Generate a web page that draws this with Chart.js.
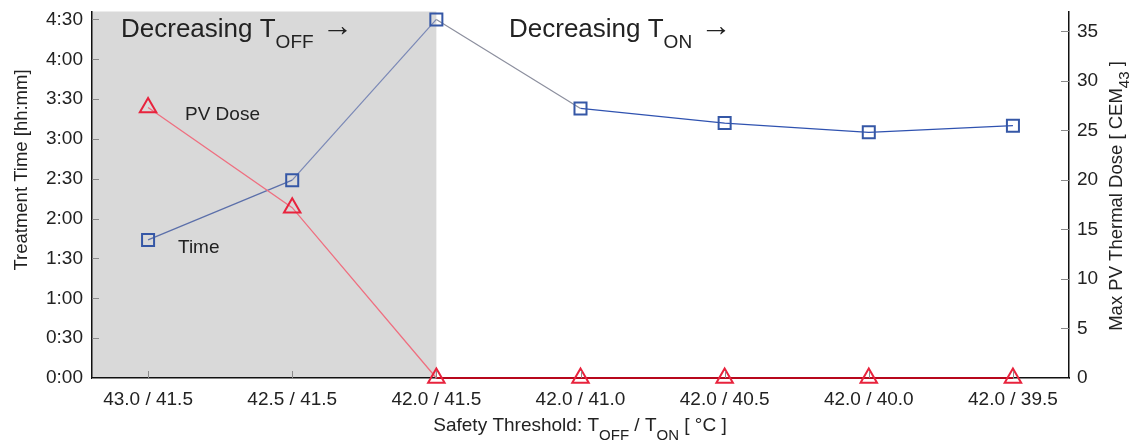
<!DOCTYPE html>
<html>
<head>
<meta charset="utf-8">
<script src="https://cdn.jsdelivr.net/npm/chart.js@4.4.0/dist/chart.umd.min.js"></script>
<style>
  html, body { margin: 0; padding: 0; background: #fff; }
  #wrap { width: 1136px; height: 442px; }
</style>
</head>
<body>
<div id="wrap"><canvas id="chart" width="1136" height="442"></canvas></div>
<script>
// chart data
const categories = ['43.0 / 41.5', '42.5 / 41.5', '42.0 / 41.5', '42.0 / 41.0', '42.0 / 40.5', '42.0 / 40.0', '42.0 / 39.5'];
const treatmentMinutes = [104, 149, 270, 203, 192, 185, 190];
const pvDose = [27.3, 17.2, 0, 0, 0, 0, 0];
const timeTicks = [0, 30, 60, 90, 120, 150, 180, 210, 240, 270];
const doseTicks = [0, 5, 10, 15, 20, 25, 30, 35];

const FONT = "'Liberation Sans', Arial, 'DejaVu Sans', sans-serif";
const TEXT = '#222';

function fmtTime(m) {
    const h = Math.floor(m / 60);
    const mm = m % 60;
    return h + ':' + (mm < 10 ? '0' : '') + mm;
}

// draws a run of text pieces, some of them subscripts
function drawRuns(ctx, runs, x, y) {
    let cx = x;
    runs.forEach(r => {
        ctx.font = r.size + 'px ' + FONT;
        ctx.fillText(r.t, cx, y + (r.dy || 0));
        cx += ctx.measureText(r.t).width;
    });
    return cx - x;
}
function runsWidth(ctx, runs) {
    let w = 0;
    runs.forEach(r => {
        ctx.font = r.size + 'px ' + FONT;
        w += ctx.measureText(r.t).width;
    });
    return w;
}

const shadePlugin = {
    id: 'shade',
    beforeDraw(chart) {
        const {ctx, chartArea} = chart;
        const x2 = chart.scales.x.getPixelForValue(2);
        ctx.save();
        ctx.fillStyle = '#d9d9d9';
        ctx.fillRect(chartArea.left, chartArea.top, x2 - chartArea.left, chartArea.bottom - chartArea.top);
        ctx.restore();
    }
};

const decorPlugin = {
    id: 'decor',
    afterDraw(chart) {
        const {ctx, chartArea, scales} = chart;
        ctx.save();
        // inward tick marks
        ctx.strokeStyle = '#8a8a8a';
        ctx.lineWidth = 1;
        scales.x.ticks.forEach(t => {
            const px = Math.round(scales.x.getPixelForValue(t.value)) + 0.5;
            ctx.beginPath(); ctx.moveTo(px, chartArea.bottom - 7); ctx.lineTo(px, chartArea.bottom); ctx.stroke();
        });
        scales.yTime.ticks.forEach(t => {
            const py = Math.round(scales.yTime.getPixelForValue(t.value)) + 0.5;
            ctx.beginPath(); ctx.moveTo(chartArea.left, py); ctx.lineTo(chartArea.left + 7, py); ctx.stroke();
        });
        scales.yDose.ticks.forEach(t => {
            const py = Math.round(scales.yDose.getPixelForValue(t.value)) + 0.5;
            ctx.beginPath(); ctx.moveTo(chartArea.right - 8, py); ctx.lineTo(chartArea.right, py); ctx.stroke();
        });

        ctx.fillStyle = TEXT;
        ctx.textBaseline = 'alphabetic';
        ctx.textAlign = 'left';

        // region labels
        drawRuns(ctx, [{t: 'Decreasing T', size: 26}, {t: 'OFF', size: 19, dy: 11}, {t: ' \u2192', size: 31, dy: -1}], 121, 37);
        drawRuns(ctx, [{t: 'Decreasing T', size: 26}, {t: 'ON', size: 19, dy: 11}, {t: ' \u2192', size: 31, dy: -1}], 509, 37);

        // series labels
        ctx.font = '19px ' + FONT;
        ctx.fillText('PV Dose', 185, 120);
        ctx.fillText('Time', 178, 253);

        // x title
        const xRuns = [{t: 'Safety Threshold: T', size: 19}, {t: 'OFF', size: 15, dy: 9}, {t: ' / T', size: 19},
                       {t: 'ON', size: 15, dy: 9}, {t: ' [ \u00b0C ]', size: 19}];
        const xw = runsWidth(ctx, xRuns);
        drawRuns(ctx, xRuns, 580 - xw / 2, 431);

        // left title
        ctx.save();
        ctx.translate(27, 170);
        ctx.rotate(-Math.PI / 2);
        ctx.font = '18.5px ' + FONT;
        ctx.textAlign = 'center';
        ctx.fillText('Treatment Time [hh:mm]', 0, 0);
        ctx.restore();

        // right title
        ctx.save();
        ctx.translate(1122, 196);
        ctx.rotate(-Math.PI / 2);
        const rRuns = [{t: 'Max PV Thermal Dose [ CEM', size: 18.5}, {t: '43', size: 15, dy: 7}, {t: ' ]', size: 18.5}];
        const rw = runsWidth(ctx, rRuns);
        drawRuns(ctx, rRuns, -rw / 2, 0);
        ctx.restore();

        ctx.restore();
    }
};

const blueSeg = ['#5b6faa', '#7a88b6', '#8c8f9e', '#2f52b0', '#2f52b0', '#2f52b0'];
const redSeg = ['#ef6f80', '#ef6f80', '#b8081c', '#b8081c', '#b8081c', '#b8081c'];

const noPad = s => { s.paddingTop = 0; s.paddingBottom = 0; s.paddingLeft = 0; s.paddingRight = 0; };

const ctx = document.getElementById('chart').getContext('2d');
new Chart(ctx, {
    type: 'line',
    data: {
        datasets: [
            {
                label: 'PV Dose',
                data: pvDose.map((v, i) => ({x: i, y: v})),
                yAxisID: 'yDose',
                borderColor: '#ef6f80',
                borderWidth: 1.3,
                segment: {
                    borderColor: c => redSeg[c.p0DataIndex],
                    borderWidth: c => c.p0DataIndex >= 2 ? 2.2 : 1.3
                },
                pointStyle: 'triangle',
                pointRadius: 9.5,
                pointBorderWidth: 2,
                pointBorderColor: '#e8233d',
                pointBackgroundColor: 'rgba(0,0,0,0)',
                clip: false
            },
            {
                label: 'Time',
                data: treatmentMinutes.map((v, i) => ({x: i, y: v})),
                yAxisID: 'yTime',
                borderColor: '#2f52b0',
                borderWidth: 1.2,
                segment: {
                    borderColor: c => blueSeg[c.p0DataIndex]
                },
                pointStyle: 'rect',
                pointRadius: 8.5,
                pointBorderWidth: 2,
                pointBorderColor: '#3557a6',
                pointBackgroundColor: 'rgba(0,0,0,0)',
                clip: false
            }
        ]
    },
    options: {
        responsive: false,
        animation: false,
        events: [],
        layout: { padding: { top: 10, left: 0, right: 0, bottom: 0 } },
        plugins: { legend: { display: false }, tooltip: { enabled: false } },
        scales: {
            x: {
                type: 'linear',
                min: -0.389,
                max: 6.389,
                afterBuildTicks: s => { s.ticks = categories.map((c, i) => ({value: i})); },
                afterFit: s => { s.height = 64; noPad(s); },
                grid: { display: false, drawTicks: false },
                border: { display: true, color: '#111', width: 1.5 },
                ticks: {
                    autoSkip: false,
                    maxRotation: 0,
                    padding: 10,
                    color: TEXT,
                    font: { family: FONT, size: 19 },
                    callback: v => categories[v]
                }
            },
            yTime: {
                type: 'linear',
                position: 'left',
                min: 0,
                max: 276,
                afterBuildTicks: s => { s.ticks = timeTicks.map(v => ({value: v})); },
                afterFit: s => { s.width = 92; noPad(s); },
                grid: { display: false, drawTicks: false },
                border: { display: true, color: '#111', width: 1.5 },
                ticks: {
                    padding: 9,
                    color: TEXT,
                    font: { family: FONT, size: 19 },
                    callback: v => fmtTime(v)
                }
            },
            yDose: {
                type: 'linear',
                position: 'right',
                min: 0,
                max: 37,
                afterBuildTicks: s => { s.ticks = doseTicks.map(v => ({value: v})); },
                afterFit: s => { s.width = 67; noPad(s); },
                grid: { display: false, drawTicks: false },
                border: { display: true, color: '#111', width: 1.5 },
                ticks: {
                    padding: 8,
                    color: TEXT,
                    font: { family: FONT, size: 19 }
                }
            }
        }
    },
    plugins: [shadePlugin, decorPlugin]
});
</script>
</body>
</html>
